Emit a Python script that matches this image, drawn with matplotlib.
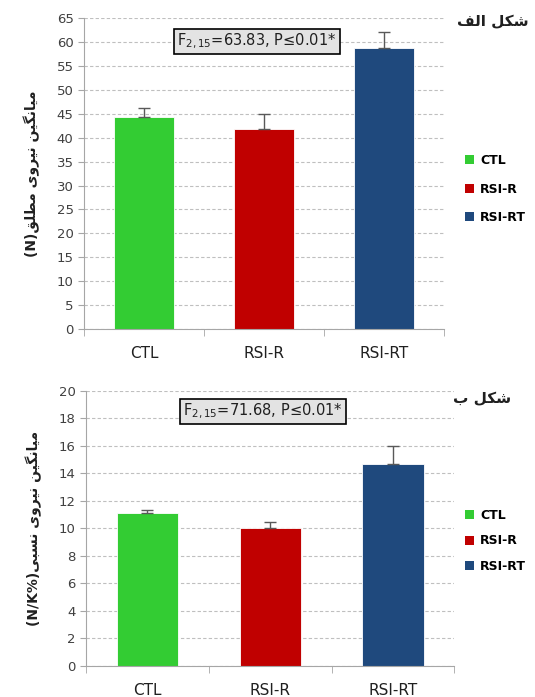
import matplotlib
matplotlib.use("Agg")
import matplotlib.pyplot as plt
from matplotlib.patches import Patch
import numpy as np

# data
groups = ["CTL", "RSI-R", "RSI-RT"]
colors = ["#33CC33", "#C00000", "#1F497D"]

abs_force = [44.3, 41.9, 58.7]
abs_err = [1.9, 3.0, 3.4]
rel_force = [11.13, 10.05, 14.72]
rel_err = [0.22, 0.40, 1.28]

title_a = "شکل الف"
title_b = "شکل ب"
ylab_a = "میانگین نیروی مطلق"
ylab_b = "میانگین نیروی نسبی"
stat_a = "F$_{2,15}$=63.83, P≤0.01*"
stat_b = "F$_{2,15}$=71.68, P≤0.01*"

# simple persian shaping (matplotlib has no arabic shaping)
FORMS = {
    "ا": ("\uFE8D", "\uFE8E", None, None),
    "ب": ("\uFE8F", "\uFE90", "\uFE91", "\uFE92"),
    "ت": ("\uFE95", "\uFE96", "\uFE97", "\uFE98"),
    "ر": ("\uFEAD", "\uFEAE", None, None),
    "ز": ("\uFEAF", "\uFEB0", None, None),
    "س": ("\uFEB1", "\uFEB2", "\uFEB3", "\uFEB4"),
    "ش": ("\uFEB5", "\uFEB6", "\uFEB7", "\uFEB8"),
    "ط": ("\uFEC1", "\uFEC2", "\uFEC3", "\uFEC4"),
    "ف": ("\uFED1", "\uFED2", "\uFED3", "\uFED4"),
    "ق": ("\uFED5", "\uFED6", "\uFED7", "\uFED8"),
    "ل": ("\uFEDD", "\uFEDE", "\uFEDF", "\uFEE0"),
    "م": ("\uFEE1", "\uFEE2", "\uFEE3", "\uFEE4"),
    "ن": ("\uFEE5", "\uFEE6", "\uFEE7", "\uFEE8"),
    "و": ("\uFEED", "\uFEEE", None, None),
    "ی": ("\uFBFC", "\uFBFD", "\uFBFE", "\uFBFF"),
    "ک": ("\uFB8E", "\uFB8F", "\uFB90", "\uFB91"),
    "گ": ("\uFB92", "\uFB93", "\uFB94", "\uFB95"),
}


def shape(txt):
    out = []
    for i, c in enumerate(txt):
        if c not in FORMS:
            out.append(c)
            continue
        prev = txt[i - 1] if i > 0 else " "
        nxt = txt[i + 1] if i + 1 < len(txt) else " "
        join_prev = prev in FORMS and FORMS[prev][2] is not None
        join_next = nxt in FORMS and FORMS[c][2] is not None
        iso, fin, ini, med = FORMS[c]
        if join_prev and join_next:
            out.append(med)
        elif join_prev:
            out.append(fin)
        elif join_next:
            out.append(ini)
        else:
            out.append(iso)
    return "".join(out[::-1])


plt.rcParams["font.family"] = ["DejaVu Sans"]

fig = plt.figure(figsize=(5.35, 6.97), dpi=100)
ax1 = fig.add_axes([0.157, 0.528, 0.673, 0.446])
ax2 = fig.add_axes([0.161, 0.0445, 0.688, 0.3946])

x = np.arange(len(groups))


def draw(ax, vals, errs, ymax, ystep, stat, title, ylab, unit,
         title_xy, leg_xy, leg_sp):
    ax.set_axisbelow(True)
    ax.yaxis.grid(True, linestyle=(0, (3, 2)), color="#BFBFBF", linewidth=0.8)
    ax.bar(x, vals, width=0.5, color=colors, edgecolor="white", linewidth=0.6)
    ax.errorbar(x, vals, yerr=[[0] * len(errs), errs], fmt="none",
                ecolor="#595959", elinewidth=1, capsize=4, capthick=1)
    ax.set_xlim(-0.5, 2.5)
    ax.set_ylim(0, ymax)
    ax.set_yticks(np.arange(0, ymax + 0.1, ystep))
    ax.set_xticks(x)
    ax.set_xticklabels(groups, fontsize=11, color="#202020")
    ax.set_xticks([-0.5, 0.5, 1.5, 2.5], minor=True)
    ax.tick_params(axis="x", which="major", length=0, pad=12)
    ax.tick_params(axis="x", which="minor", length=5, color="#A6A6A6")
    ax.tick_params(axis="y", length=4, color="#A6A6A6", labelsize=9.5,
                   labelcolor="#404040")
    for s in ["top", "right"]:
        ax.spines[s].set_visible(False)
    for s in ["left", "bottom"]:
        ax.spines[s].set_color("#A6A6A6")
    ax.text(0.48, 0.925, stat, transform=ax.transAxes, ha="center",
            va="center", fontsize=10.5, color="#202020",
            bbox=dict(boxstyle="square,pad=0.22", facecolor="#E3E3E3",
                      edgecolor="black", linewidth=1.2))
    fig.text(title_xy[0], title_xy[1], shape(title), ha="right",
             va="center", fontsize=11, fontweight="bold", color="#202020")
    ax.set_ylabel(unit + shape(ylab), fontsize=10, fontweight="bold",
                  color="#202020", labelpad=12)
    handles = [Patch(facecolor=c, edgecolor="none") for c in colors]
    fig.legend(handles, groups, loc="upper left", bbox_to_anchor=leg_xy,
               frameon=False, handlelength=0.75, handleheight=0.75,
               handletextpad=0.45, labelspacing=leg_sp, borderpad=0,
               borderaxespad=0, prop=dict(weight="bold", size=9))


draw(ax1, abs_force, abs_err, 65, 5, stat_a, title_a, ylab_a, "(N)",
     (529 / 535, 1 - 22 / 697), (465 / 535, 1 - 154 / 697), 1.25)
draw(ax2, rel_force, rel_err, 20, 2, stat_b, title_b, ylab_b, "(N/K%)",
     (511 / 535, 1 - 399 / 697), (465 / 535, 1 - 509 / 697), 1.0)

fig.savefig("out.png", dpi=100)
